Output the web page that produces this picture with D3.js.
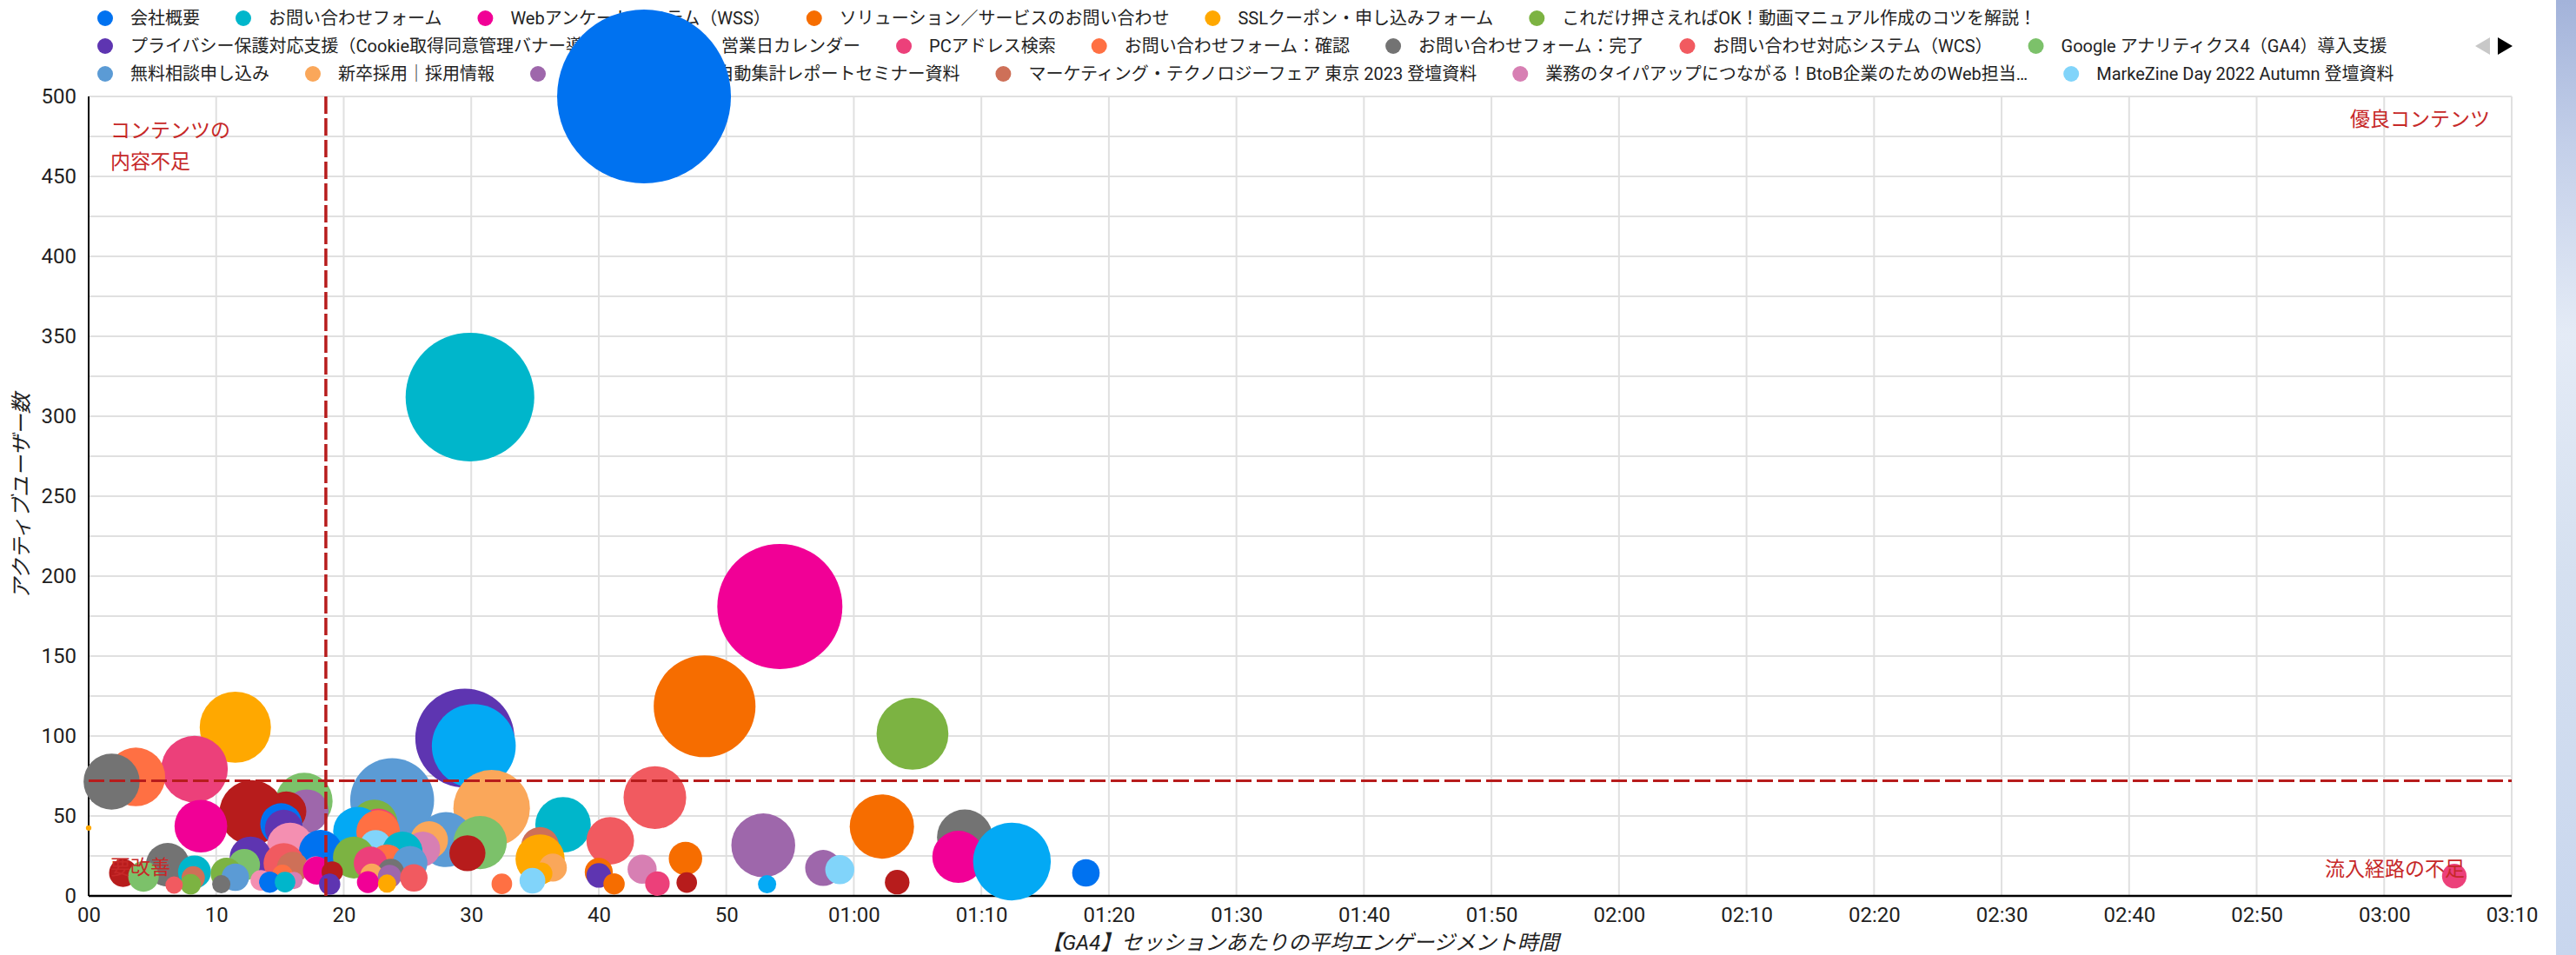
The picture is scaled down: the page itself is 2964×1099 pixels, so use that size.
<!DOCTYPE html>
<html><head><meta charset="utf-8">
<script src="https://cdn.jsdelivr.net/npm/d3@7"></script>
<style>
html,body{margin:0;padding:0;background:#fff;overflow:hidden;}
svg{display:block;}
text{font-family:Roboto,"Noto Sans CJK JP",sans-serif;}
</style></head><body>
<svg id="chart" width="2964" height="1099"></svg>
<script>
// ---------- data ----------
const legendNames = [
  "会社概要","お問い合わせフォーム","Webアンケートシステム（WSS）","ソリューション／サービスのお問い合わせ",
  "SSLクーポン・申し込みフォーム","これだけ押さえればOK！動画マニュアル作成のコツを解説！",
  "プライバシー保護対応支援（Cookie取得同意管理バナー導入支援）","営業日カレンダー","PCアドレス検索",
  "お問い合わせフォーム：確認","お問い合わせフォーム：完了","お問い合わせ対応システム（WCS）",
  "Google アナリティクス4（GA4）導入支援",
  "無料相談申し込み","新卒採用｜採用情報","GA4×Looker Studio 自動集計レポートセミナー資料",
  "マーケティング・テクノロジーフェア 東京 2023 登壇資料","業務のタイパアップにつながる！BtoB企業のためのWeb担当…",
  "MarkeZine Day 2022 Autumn 登壇資料"
];
const palette = ["#0072f0","#00b6cb","#f10096","#f66d00","#ffa800","#7cb342","#5e35b1","#03a9f4","#ec407a","#ff7043",
  "#737373","#f15a60","#7cc16a","#5b9bd5","#faa75a","#9e67ab","#ce7058","#d77fb3","#81d4fa","#b71c1c","#f48fb1"];
const xTickValues = d3.range(0, 191, 10);
const yTickValues = d3.range(0, 501, 50);
const yGridValues = d3.range(25, 501, 25);

// bubbles: engagement time (s), active users, size metric, colour index
const bubbleTime  = [43.55,29.9,54.2,48.3,11.5,64.6,29.5,30.2,8.3,3.7,1.8,44.4,16.9,23.8,31.6,17.1,12.8,15.5,22.4,8.8,
  15.1,15.3,21.1,22.7,22.7,37.2,62.2,0.0,68.7,40.9,26.7,28.0,30.7,52.9,15.8,22.5,35.4,24.6,18.2,29.7,
  26.2,68.2,12.7,20.8,35.4,46.8,72.4,15.3,25.2,22.1,23.4,12.2,6.2,16.0,36.4,57.6,43.4,58.9,17.9,8.3,
  19.1,23.7,40.0,2.7,78.2,10.8,35.5,15.2,22.2,40.0,185.5,4.3,23.6,11.5,8.2,25.5,13.5,16.1,34.8,14.2,
  15.4,21.9,63.4,46.9,23.4,44.6,32.4,41.2,8.0,10.4,18.9,53.2,6.7,17.8];
const bubbleUsers = [500,312,181,118.6,105.5,101.4,98.7,93.8,79.3,74.4,71.5,61.5,59.3,59.9,54.8,53.0,52.1,52.9,45.7,43.6,
  44.9,42.1,40.3,41.5,40.0,44.5,43.4,42.5,36.7,34.5,34.9,35.2,33.4,31.6,31.3,31.3,31.3,27.6,27.6,26.7,
  29.4,24.4,24.0,24.0,23.1,23.4,21.5,20.4,20.4,20.4,21.3,19.5,19.5,17.7,17.7,17.5,16.7,16.4,15.8,15.0,
  15.0,15.0,15.0,14.4,14.4,14.0,14.0,13.1,13.1,12.8,12.4,12.2,12.2,11.7,11.3,11.3,9.7,9.7,9.5,8.6,
  8.6,8.6,8.6,8.4,7.7,7.7,7.5,7.5,7.3,7.3,7.3,7.3,6.8,17.5];
const bubbleViews = [1000,548,518,343,168,171,325,233,147,114,104,130,107,233,194,63,139,53,71,92,
  58,47,80,58,63,102,137,1,102,75,47,100,94,135,71,33,47,54,63,43,
  40,90,58,58,80,37,200,54,40,37,40,33,63,33,26,43,28,28,26,36,
  15,23,26,26,25,33,16,14,17,20,20,31,18,25,18,25,14,10,22,15,
  14,16,20,14,11,20,14,15,14,11,15,11,10,18];
const bubbleColor = [0,1,2,3,4,5,6,7,8,9,10,11,12,13,14,15,19,19,5,2,
  0,6,7,8,9,1,3,4,10,11,14,13,12,15,20,18,16,1,0,19,
  17,2,6,5,4,3,7,11,13,8,9,12,10,16,14,15,17,18,2,1,
  19,10,3,19,0,5,4,9,14,6,8,12,15,13,16,11,20,17,18,0,
  1,2,19,19,4,8,9,3,5,10,6,7,11,20];

const refTime = 18.6, refUsers = 72;

// ---------- layout ----------
const L = 102, R = 2890, T = 111, B = 1031;
const svg = d3.select("#chart");
const x = d3.scaleLinear().domain([0,190]).range([L,R]);
const y = d3.scaleLinear().domain([0,500]).range([B,T]);
const rs = d3.scaleSqrt().domain([0,1000]).range([0,100]);
const fmtTime = s => s < 60 ? d3.format("02d")(s) : d3.format("02d")(Math.floor(s/60)) + ":" + d3.format("02d")(s%60);

// right strip background
const defs = svg.append("defs");
const g1 = defs.append("linearGradient").attr("id","strip").attr("x1",0).attr("y1",0).attr("x2",0).attr("y2",1);
[["0%","#a3b3da"],["15%","#c3cfe9"],["35%","#e4ebf6"],["60%","#d5e0f0"],["100%","#c8d6ee"]]
  .forEach(([o,c])=>g1.append("stop").attr("offset",o).attr("stop-color",c));
svg.append("rect").attr("x",2941).attr("y",0).attr("width",23).attr("height",1099).attr("fill","url(#strip)");

// ---------- legend ----------
const legend = svg.append("g");
const rowCounts = [6,7,6], rowY = [21,53,85];
let idx = 0;
rowCounts.forEach((n,ri)=>{
  let cx = 121;
  for (let k=0;k<n;k++,idx++){
    legend.append("circle").attr("cx",cx).attr("cy",rowY[ri]).attr("r",9).attr("fill",palette[idx]);
    const t = legend.append("text").attr("x",cx+29).attr("y",rowY[ri]).attr("dy","0.35em")
      .attr("font-size",20).attr("fill","#222").text(legendNames[idx]);
    cx = cx + 29 + t.node().getComputedTextLength() + 50;
  }
});
legend.append("path").attr("d","M2848,53 L2865,43 L2865,63 Z").attr("fill","#c8c8c8");
legend.append("path").attr("d","M2891,53 L2874,43 L2874,63 Z").attr("fill","#000");

// ---------- grid ----------
const grid = svg.append("g").attr("stroke","#e0e0e0").attr("stroke-width",2);
grid.selectAll(".v").data(xTickValues.filter(d=>d>0)).join("line")
  .attr("x1",d=>x(d)).attr("x2",d=>x(d)).attr("y1",T).attr("y2",B);
grid.selectAll(".h").data(yGridValues).join("line")
  .attr("x1",L).attr("x2",R).attr("y1",d=>y(d)).attr("y2",d=>y(d));

// ---------- axes ----------
const xAxis = svg.append("g").attr("transform",`translate(0,${B})`)
  .call(d3.axisBottom(x).tickValues(xTickValues).tickFormat(fmtTime).tickSize(0).tickPadding(13));
xAxis.select(".domain").remove();
xAxis.selectAll("text").attr("font-size",24).attr("fill","#1f1f1f").attr("font-family",'Roboto,"Noto Sans CJK JP",sans-serif');
const yAxis = svg.append("g").attr("transform",`translate(${L},0)`)
  .call(d3.axisLeft(y).tickValues(yTickValues).tickSize(0).tickPadding(14));
yAxis.select(".domain").remove();
yAxis.selectAll("text").attr("font-size",24).attr("fill","#1f1f1f").attr("font-family",'Roboto,"Noto Sans CJK JP",sans-serif');
svg.append("line").attr("x1",L).attr("x2",R).attr("y1",B).attr("y2",B).attr("stroke","#000").attr("stroke-width",2.5);
svg.append("line").attr("x1",L).attr("x2",L).attr("y1",T).attr("y2",B).attr("stroke","#000").attr("stroke-width",2);

// axis titles
svg.append("text").attr("x",(L+R)/2).attr("y",1085).attr("dy","0.35em").attr("text-anchor","middle")
  .attr("font-size",24).attr("font-style","italic").attr("fill","#222")
  .text("【GA4】セッションあたりの平均エンゲージメント時間");
svg.append("text").attr("transform",`translate(25,${(T+B)/2}) rotate(-90)`).attr("dy","0.35em")
  .attr("text-anchor","middle").attr("font-size",24).attr("font-style","italic").attr("fill","#222")
  .text("アクティブユーザー数");

// ---------- bubbles ----------
const bubbles = bubbleTime.map((t,i)=>({t, u:bubbleUsers[i], v:bubbleViews[i], c:bubbleColor[i]}));
const order = d3.sort(bubbles, (a,b)=>d3.descending(a.u,b.u));
svg.append("g").selectAll("circle").data(order).join("circle")
  .attr("cx",d=>x(d.t)).attr("cy",d=>y(d.u)).attr("r",d=>rs(d.v)).attr("fill",d=>palette[d.c]);

// ---------- reference lines ----------
const red = "#b71c1c";
svg.append("line").attr("x1",x(refTime)).attr("x2",x(refTime)).attr("y1",T).attr("y2",B+4)
  .attr("stroke",red).attr("stroke-width",3.5).attr("stroke-dasharray","20,5");
svg.append("line").attr("x1",L).attr("x2",R).attr("y1",y(refUsers)).attr("y2",y(refUsers))
  .attr("stroke",red).attr("stroke-width",3).attr("stroke-dasharray","18,6");

// quadrant labels
const ql = svg.append("g").attr("fill","#c62828").attr("font-size",23)
  .attr("font-family",'"Noto Sans CJK JP",sans-serif');
ql.append("text").attr("x",127).attr("y",150).attr("dy","0.35em").text("コンテンツの");
ql.append("text").attr("x",127).attr("y",186).attr("dy","0.35em").text("内容不足");
ql.append("text").attr("x",2865).attr("y",137).attr("dy","0.35em").attr("text-anchor","end").text("優良コンテンツ");
ql.append("text").attr("x",127).attr("y",998).attr("dy","0.35em").text("要改善");
ql.append("text").attr("x",2836).attr("y",1000).attr("dy","0.35em").attr("text-anchor","end").text("流入経路の不足");
</script>
</body></html>
